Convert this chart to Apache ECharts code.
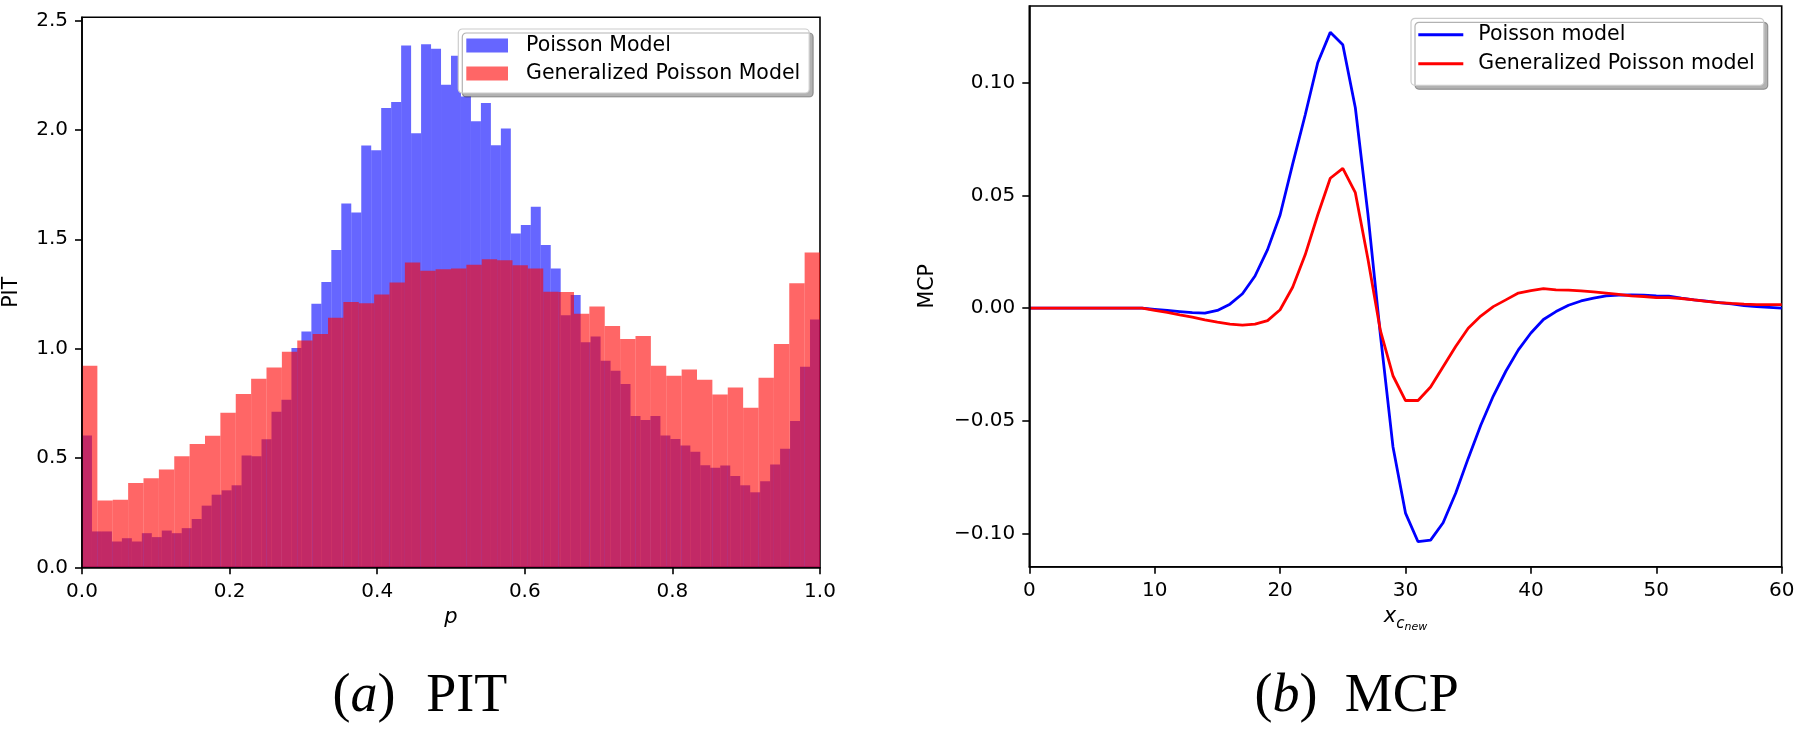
<!DOCTYPE html>
<html>
<head>
<meta charset="utf-8">
<script src="https://cdn.jsdelivr.net/npm/echarts@6/dist/echarts.min.js"></script>
<style>
html,body{margin:0;padding:0;background:#fff;}
#c{width:1800px;height:733px;}
</style>
</head>
<body>
<div id="c"></div>
<script>
// ---- PIT histogram (left) ----
const pitXTicks = [0, 0.2, 0.4, 0.6, 0.8, 1.0];
const pitYTicks = [0, 0.5, 1.0, 1.5, 2.0, 2.5];
// Poisson model: 74 equal bins on [0,1]
const poissonPIT = [
  0.603, 0.164, 0.164, 0.118, 0.133, 0.118, 0.156, 0.138, 0.168, 0.156,
  0.179, 0.221, 0.282, 0.332, 0.352, 0.375, 0.511, 0.508, 0.585, 0.711,
  0.766, 1.003, 1.078, 1.205, 1.305, 1.451, 1.664, 1.622, 1.929, 1.907,
  2.100, 2.128, 2.386, 1.985, 2.392, 2.371, 2.207, 2.339, 2.153, 2.040,
  2.123, 1.930, 2.006, 1.526, 1.565, 1.649, 1.474, 1.366, 1.152, 1.245,
  1.029, 1.055, 0.945, 0.899, 0.838, 0.692, 0.674, 0.692, 0.603, 0.587,
  0.557, 0.528, 0.467, 0.455, 0.466, 0.417, 0.375, 0.343, 0.394, 0.470,
  0.542, 0.669, 0.917, 1.133
];
// Generalized Poisson model: 48 equal bins on [0,1]
const genPoissonPIT = [
  0.922, 0.305, 0.309, 0.386, 0.407, 0.447, 0.508, 0.564, 0.602, 0.707,
  0.792, 0.862, 0.914, 0.986, 1.037, 1.067, 1.141, 1.213, 1.207, 1.248,
  1.302, 1.394, 1.356, 1.363, 1.366, 1.383, 1.409, 1.404, 1.381, 1.366,
  1.260, 1.259, 1.159, 1.193, 1.103, 1.044, 1.058, 0.922, 0.876, 0.904,
  0.858, 0.790, 0.822, 0.730, 0.867, 1.021, 1.299, 1.439
];
const poissonBinNames = poissonPIT.map((v, i) => 'b' + i);
const genBinNames = genPoissonPIT.map((v, i) => 'g' + i);

// ---- MCP curves (right) ----
const mcpX = [0,1,2,3,4,5,6,7,8,9,10,11,12,13,14,15,16,17,18,19,20,21,22,23,24,25,26,27,28,29,30,
  31,32,33,34,35,36,37,38,39,40,41,42,43,44,45,46,47,48,49,50,51,52,53,54,55,56,57,58,59,60];
const mcpPoisson = [0,0,0,0,0,0,0,0,0,0,
  -0.0005,-0.001,-0.0015,-0.002,-0.0022,-0.001,0.0018,0.0064,0.0143,0.026,
  0.0414,0.064,0.0858,0.109,0.1225,0.117,0.089,0.042,-0.012,-0.0615,
  -0.091,-0.1037,-0.103,-0.0953,-0.0822,-0.0667,-0.052,-0.039,-0.028,-0.0185,
  -0.011,-0.005,-0.0015,0.0013,0.0032,0.0045,0.0055,0.0058,0.0059,0.0058,
  0.0055,0.0054,0.0045,0.0037,0.0031,0.0025,0.0019,0.0012,0.0007,0.0004,0.0];
const mcpGenPoisson = [0,0,0,0,0,0,0,0,0,0,
  -0.001,-0.0019,-0.003,-0.004,-0.0052,-0.0062,-0.0071,-0.0075,-0.0071,-0.0055,
  -0.0007,0.0093,0.0237,0.0414,0.0577,0.0621,0.0513,0.022,-0.010,-0.030,
  -0.041,-0.041,-0.035,-0.026,-0.017,-0.0089,-0.0035,0.0007,0.0037,0.0067,
  0.0078,0.0087,0.0081,0.008,0.0077,0.0072,0.0067,0.0061,0.0055,0.0052,
  0.0047,0.0047,0.0043,0.0037,0.003,0.0025,0.0021,0.0018,0.0016,0.0016,0.0016];
const mcpXTicks = [0, 10, 20, 30, 40, 50, 60];
const mcpYTicks = [-0.10, -0.05, 0, 0.05, 0.10];

const FONT = 'DejaVu Sans';
const axisLineStyle = {color: '#000', width: 1.6};
const tickStyle = {show: true, length: 7, lineStyle: {color: '#000', width: 1.6}};
const labelBase = {color: '#000', fontFamily: FONT, fontSize: 20, margin: 14};

const chart = echarts.init(document.getElementById('c'), null, {renderer: 'canvas'});

const fmtMinus = v => (v < -1e-9 ? '\u2212' : '') + Math.abs(v).toFixed(2);

chart.setOption({
  animation: false,
  backgroundColor: '#fff',
  textStyle: {fontFamily: FONT},
  grid: [
    {left: 81.7, top: 17.3, width: 738.3, height: 550, show: true, borderColor: '#000', borderWidth: 1.6, backgroundColor: 'transparent', containLabel: false},
    {left: 1029.3, top: 6, width: 752.4, height: 560.7, show: true, borderColor: '#000', borderWidth: 1.6, backgroundColor: 'transparent', containLabel: false}
  ],
  xAxis: [
    {type: 'value', gridIndex: 0, min: 0, max: 1, interval: 0.2, position: 'bottom', z: 5,
     axisLine: {show: true, onZero: false, lineStyle: axisLineStyle}, axisTick: tickStyle,
     axisLabel: Object.assign({}, labelBase, {formatter: v => v.toFixed(1), customValues: pitXTicks}),
     splitLine: {show: false},
     name: 'p', nameLocation: 'middle', nameGap: 40,
     nameTextStyle: {fontFamily: FONT, fontStyle: 'italic', fontSize: 21, color: '#000', verticalAlign: 'top'}},
    {type: 'category', gridIndex: 0, data: poissonBinNames, show: false, boundaryGap: true, position: 'top'},
    {type: 'category', gridIndex: 0, data: genBinNames, show: false, boundaryGap: true, position: 'top'},
    {type: 'value', gridIndex: 1, min: 0, max: 60, interval: 10, position: 'bottom', z: 5,
     axisLine: {show: true, onZero: false, lineStyle: axisLineStyle}, axisTick: tickStyle,
     axisLabel: Object.assign({}, labelBase, {formatter: v => String(v), customValues: mcpXTicks}),
     splitLine: {show: false},
     name: '{x|x}{c|c}{n|new}', nameLocation: 'middle', nameGap: 44,
     nameTextStyle: {color: '#000', verticalAlign: 'top',
       rich: {
         x: {fontFamily: FONT, fontStyle: 'italic', fontSize: 21, lineHeight: 21, padding: [0, 0, 6, 0], verticalAlign: 'bottom', color: '#000'},
         c: {fontFamily: FONT, fontStyle: 'italic', fontSize: 15, lineHeight: 15, padding: [0, 0, 1, 0], verticalAlign: 'bottom', color: '#000'},
         n: {fontFamily: FONT, fontStyle: 'italic', fontSize: 11, lineHeight: 11, verticalAlign: 'bottom', color: '#000'}
       }}}
  ],
  yAxis: [
    {type: 'value', gridIndex: 0, min: 0, max: 2.515, z: 5,
     axisLine: {show: true, onZero: false, lineStyle: axisLineStyle}, axisTick: Object.assign({}, tickStyle, {customValues: pitYTicks}),
     axisLabel: Object.assign({}, labelBase, {formatter: v => v.toFixed(1), customValues: pitYTicks}),
     splitLine: {show: false},
     name: 'PIT', nameLocation: 'middle', nameGap: 60,
     nameTextStyle: {fontFamily: FONT, fontSize: 20.5, color: '#000'}},
    {type: 'value', gridIndex: 1, min: -0.1148, max: 0.1342, z: 5,
     axisLine: {show: true, onZero: false, lineStyle: axisLineStyle}, axisTick: Object.assign({}, tickStyle, {customValues: mcpYTicks}),
     axisLabel: Object.assign({}, labelBase, {formatter: fmtMinus, customValues: mcpYTicks}),
     splitLine: {show: false},
     name: 'MCP', nameLocation: 'middle', nameGap: 91,
     nameTextStyle: {fontFamily: FONT, fontSize: 20.5, color: '#000'}}
  ],
  legend: [
    {left: 458.3, top: 29, orient: 'vertical', selectedMode: false,
     data: [{name: 'Poisson Model', icon: 'rect'}, {name: 'Generalized Poisson Model', icon: 'rect'}],
     itemWidth: 41.7, itemHeight: 14, itemGap: 7, padding: [6, 9, 9, 8],
     itemStyle: {borderWidth: 0},
     textStyle: {fontFamily: FONT, fontSize: 20.5, color: '#000', lineHeight: 20, padding: [0, 0, 0, 13]},
     backgroundColor: '#ffffff', borderColor: '#cccccc', borderWidth: 1.2, borderRadius: 4,
     shadowColor: 'rgba(0,0,0,0.3)', shadowBlur: 0, shadowOffsetX: 4, shadowOffsetY: 4},
    {left: 1411, top: 18.3, orient: 'vertical', selectedMode: false,
     data: [{name: 'Poisson model', icon: 'rect'}, {name: 'Generalized Poisson model', icon: 'rect'}],
     itemWidth: 45, itemHeight: 3, itemGap: 8, padding: [6, 9, 11, 7.3],
     itemStyle: {borderWidth: 0},
     textStyle: {fontFamily: FONT, fontSize: 20.5, color: '#000', lineHeight: 20, padding: [0, 0, 0, 10]},
     backgroundColor: '#ffffff', borderColor: '#cccccc', borderWidth: 1.2, borderRadius: 4,
     shadowColor: 'rgba(0,0,0,0.3)', shadowBlur: 0, shadowOffsetX: 4, shadowOffsetY: 4}
  ],
  series: [
    {name: 'Poisson Model', type: 'bar', xAxisIndex: 1, yAxisIndex: 0, data: poissonPIT,
     barWidth: '100%', barCategoryGap: '0%', itemStyle: {color: 'rgba(0,0,255,0.6)'}, silent: true},
    {name: 'Generalized Poisson Model', type: 'bar', xAxisIndex: 2, yAxisIndex: 0, data: genPoissonPIT,
     barWidth: '100%', barCategoryGap: '0%', itemStyle: {color: 'rgba(255,0,0,0.6)'}, silent: true},
    {name: 'Poisson model', type: 'line', xAxisIndex: 3, yAxisIndex: 1, color: '#0000ff',
     data: mcpX.map((x, i) => [x, mcpPoisson[i]]), symbol: 'none', showSymbol: false,
     lineStyle: {color: '#0000ff', width: 2.8}, silent: true},
    {name: 'Generalized Poisson model', type: 'line', xAxisIndex: 3, yAxisIndex: 1, color: '#ff0000',
     data: mcpX.map((x, i) => [x, mcpGenPoisson[i]]), symbol: 'none', showSymbol: false,
     lineStyle: {color: '#ff0000', width: 2.8}, silent: true}
  ],
  graphic: [
    {type: 'text', x: 364, y: 697, style: {text: '{n|(}{i|a}{n|)}', align: 'center', verticalAlign: 'middle',
      rich: {n: {fontFamily: 'Liberation Serif', fontSize: 54, fill: '#000'}, i: {fontFamily: 'Liberation Serif', fontStyle: 'italic', fontSize: 54, fill: '#000'}}}},
    {type: 'text', x: 466.7, y: 697, style: {text: 'PIT', fontFamily: 'Liberation Serif', fontSize: 54, fill: '#000', align: 'center', verticalAlign: 'middle'}},
    {type: 'text', x: 1286, y: 697, style: {text: '{n|(}{i|b}{n|)}', align: 'center', verticalAlign: 'middle',
      rich: {n: {fontFamily: 'Liberation Serif', fontSize: 54, fill: '#000'}, i: {fontFamily: 'Liberation Serif', fontStyle: 'italic', fontSize: 54, fill: '#000'}}}},
    {type: 'text', x: 1401.7, y: 697, style: {text: 'MCP', fontFamily: 'Liberation Serif', fontSize: 54, fill: '#000', align: 'center', verticalAlign: 'middle'}}
  ]
});
</script>
</body>
</html>
